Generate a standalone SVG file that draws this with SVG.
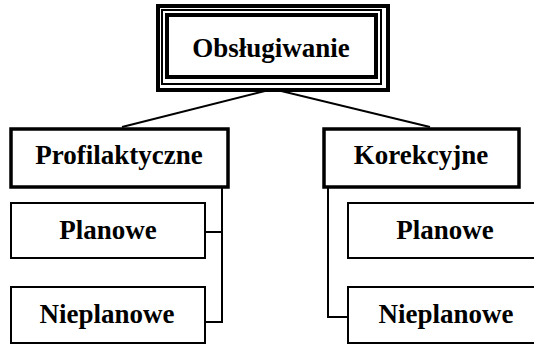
<svg xmlns="http://www.w3.org/2000/svg" width="534" height="347" viewBox="0 0 534 347">
<style>
text{font-family:"Liberation Serif","Times New Roman",serif;font-weight:bold;font-size:27px;fill:#000;text-anchor:middle}
.thick{fill:#fff;stroke:#000;stroke-width:3.5}
.thin{fill:#fff;stroke:#000;stroke-width:2}
.conn{fill:none;stroke:#000;stroke-width:2}
</style>
<rect width="534" height="347" fill="#fff"/>
<g id="connectors">
<polyline class="conn" points="122,127 273,89 430,127"/>
<polyline class="conn" points="205,232 222,232 222,188 222,322 205,322"/>
<polyline class="conn" points="328,187 328,317 348,317"/>
</g>
<g id="obslugiwanie">
<rect x="158" y="6" width="230" height="84" fill="#fff" stroke="#000" stroke-width="4"/>
<rect x="162" y="10" width="219" height="74" fill="none" stroke="#000" stroke-width="2"/>
<rect x="167" y="15" width="209" height="62" fill="none" stroke="#000" stroke-width="4"/>
<text x="271" y="57">Obsługiwanie</text>
</g>
<g id="profilaktyczne">
<rect class="thick" x="11" y="129" width="217" height="58"/>
<text x="119" y="164">Profilaktyczne</text>
</g>
<g id="planowe-left">
<rect class="thin" x="11" y="203" width="194" height="55"/>
<text x="108" y="239">Planowe</text>
</g>
<g id="nieplanowe-left">
<rect class="thin" x="11" y="287" width="194" height="56"/>
<text x="107" y="323">Nieplanowe</text>
</g>
<g id="korekcyjne">
<rect class="thick" x="324" y="129" width="195" height="58"/>
<text x="421" y="164">Korekcyjne</text>
</g>
<g id="planowe-right">
<rect class="thin" x="348" y="203" width="194" height="55"/>
<text x="445" y="239">Planowe</text>
</g>
<g id="nieplanowe-right">
<rect class="thin" x="348" y="287" width="194" height="56"/>
<text x="446" y="323">Nieplanowe</text>
</g>
</svg>
